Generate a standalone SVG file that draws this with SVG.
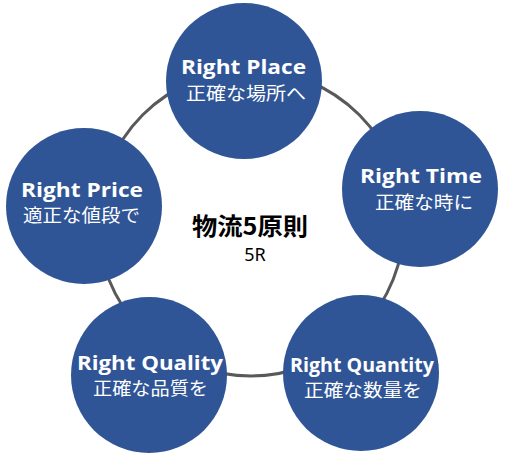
<svg xmlns="http://www.w3.org/2000/svg" width="507" height="464" viewBox="0 0 507 464">
<style>
.node{fill:#2F5597;}
.en{font-family:"Open Sans","Noto Sans",sans-serif;font-weight:bold;font-size:20px;fill:#ffffff;text-anchor:middle;}
.jp{font-family:"Noto Sans CJK JP","Noto Sans",sans-serif;font-size:18px;fill:#ffffff;text-anchor:middle;}
.ring{fill:none;stroke:#595959;stroke-width:3;}
.title{font-family:"Noto Sans CJK JP",sans-serif;font-weight:bold;font-size:24px;fill:#000000;text-anchor:middle;}
.sub{font-family:"Noto Sans","Noto Sans CJK JP",sans-serif;font-size:18px;fill:#000000;text-anchor:middle;}
</style>
<rect width="507" height="464" fill="#ffffff"/>
<g id="connectors">
<circle class="ring" cx="251" cy="223" r="153"/>
</g>
<g id="center">
<text class="title" x="250" y="235" textLength="116" lengthAdjust="spacingAndGlyphs">物流5原則</text>
<text class="sub" x="255" y="261">5R</text>
</g>
<g id="place">
<circle class="node" cx="244" cy="81" r="78"/>
<text class="en" x="243.5" y="74" textLength="125" lengthAdjust="spacingAndGlyphs">Right Place</text>
<text class="jp" x="246" y="100" textLength="120" lengthAdjust="spacingAndGlyphs">正確な場所へ</text>
</g>
<g id="time">
<circle class="node" cx="420" cy="189" r="78"/>
<text class="en" x="421" y="183" textLength="122" lengthAdjust="spacingAndGlyphs">Right Time</text>
<text class="jp" x="424" y="209" textLength="98" lengthAdjust="spacingAndGlyphs">正確な時に</text>
</g>
<g id="price">
<circle class="node" cx="84" cy="206" r="78"/>
<text class="en" x="82" y="197" textLength="122" lengthAdjust="spacingAndGlyphs">Right Price</text>
<text class="jp" x="81.5" y="222" textLength="117" lengthAdjust="spacingAndGlyphs">適正な値段で</text>
</g>
<g id="quality">
<circle class="node" cx="149" cy="375" r="78"/>
<text class="en" x="150" y="370" textLength="146" lengthAdjust="spacingAndGlyphs">Right Quality</text>
<text class="jp" x="150.5" y="395" textLength="115" lengthAdjust="spacingAndGlyphs">正確な品質を</text>
</g>
<g id="quantity">
<circle class="node" cx="361" cy="373" r="78"/>
<text class="en" x="362" y="372" textLength="144" lengthAdjust="spacingAndGlyphs" style="font-size:19px">Right Quantity</text>
<text class="jp" x="363" y="397" textLength="118" lengthAdjust="spacingAndGlyphs">正確な数量を</text>
</g>
</svg>
